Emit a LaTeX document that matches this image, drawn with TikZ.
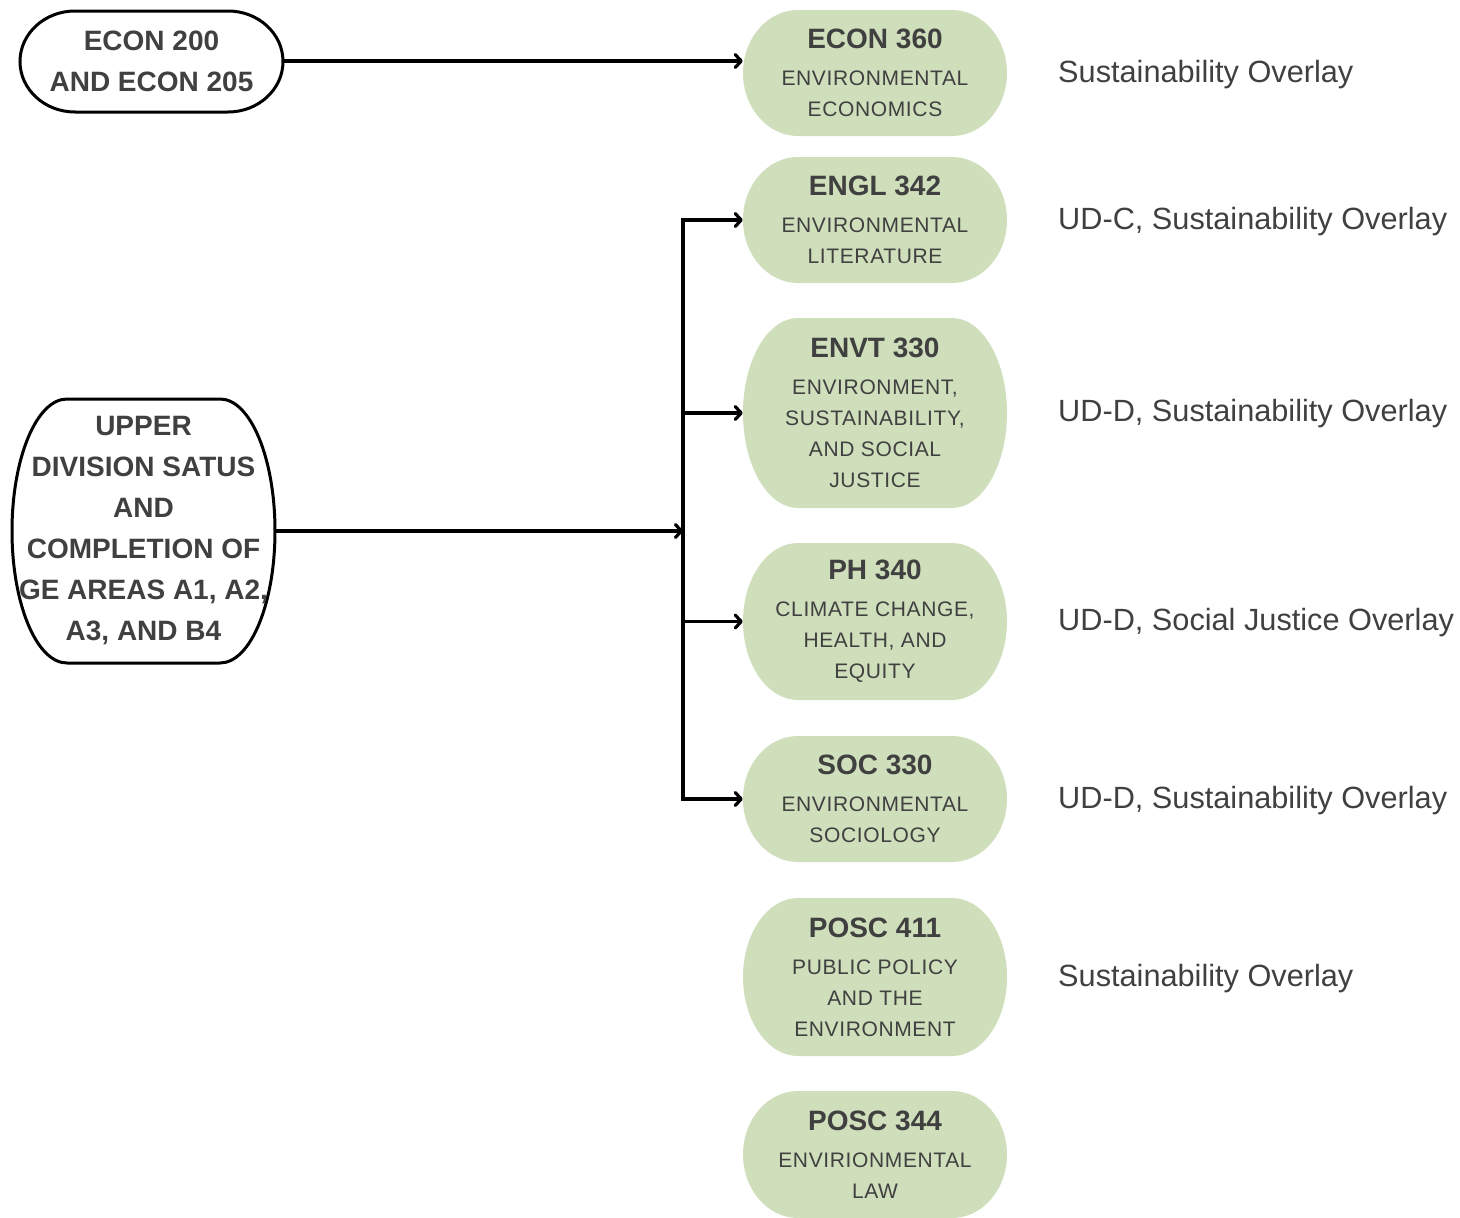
\documentclass[tikz,border=0pt]{standalone}
\usepackage{fontspec}
\setmainfont{Liberation Sans}
\newfontfamily\subfont[LetterSpace=3]{Liberation Sans}
\usetikzlibrary{arrows.meta}
\definecolor{sage}{HTML}{CFDEBB}
\definecolor{ink}{HTML}{404040}
% capsule outline: style, cx, cy, half width, half height
\newcommand\capsule[5]{%
  \path[#1] (#2-#4+55,#3-#5) -- (#2+#4-55,#3-#5)
    arc[start angle=-90,end angle=90,x radius=55,y radius=#5]
    -- (#2-#4+55,#3+#5)
    arc[start angle=90,end angle=270,x radius=55,y radius=#5] -- cycle;}
% course node: name, cx, cy, half height, title, subtitle
\newcommand\course[6]{%
  \capsule{fill=sage,draw=none}{#2}{#3}{132}{#4}
  \node[coursetext, minimum height=2*#4] (#1) at (#2,#3)
    {{\rmfamily\bfseries\fontsize{28}{31}\selectfont #5}\\[6pt]#6};}
\begin{document}
\begin{tikzpicture}[x=1pt,y=-1pt,
  coursetext/.style={inner sep=0pt, minimum width=264, align=center, text=ink,
    font={\subfont\fontsize{21}{31}\selectfont}},
  leftbox/.style={inner sep=0pt, align=center, text=ink,
    font={\bfseries\fontsize{28}{41}\selectfont}},
  outline/.style={draw=black, line width=3pt, fill=white},
  overlay/.style={anchor=west, inner sep=0pt, text=ink,
    font={\fontsize{30.7}{36}\selectfont}},
  conn/.style={draw=black, line width=3.2pt},
  arr/.style={conn, -{Straight Barb[length=6pt,width=13pt,round]}}]
\useasboundingbox (0,0) rectangle (1460,1218);

% left nodes
\capsule{outline}{151.5}{61.5}{131.5}{50.5}
\node[leftbox, minimum width=263, minimum height=101] (econ200) at (151.5,61)
  {ECON 200\\AND ECON 205};
\capsule{outline}{143.5}{531}{131.5}{132}
\node[leftbox, minimum width=263, minimum height=264] (upper) at (143.5,531)
  {UPPER\\DIVISION SATUS\\AND\\COMPLETION OF\\GE AREAS A1, A2,\\A3, AND B4};

% course nodes
\course{econ360}{875}{73}{63}{ECON 360}{ENVIRONMENTAL\\ECONOMICS}
\course{engl342}{875}{220}{63}{ENGL 342}{ENVIRONMENTAL\\LITERATURE}
\course{envt330}{875}{413}{95}{ENVT 330}{ENVIRONMENT,\\SUSTAINABILITY,\\AND SOCIAL\\JUSTICE}
\course{ph340}{875}{621.5}{78.5}{PH 340}{CLIMATE CHANGE,\\HEALTH, AND\\EQUITY}
\course{soc330}{875}{799}{63}{SOC 330}{ENVIRONMENTAL\\SOCIOLOGY}
\course{posc411}{875}{977}{79}{POSC 411}{PUBLIC POLICY\\AND THE\\ENVIRONMENT}
\course{posc344}{875}{1154.5}{63.5}{POSC 344}{ENVIRIONMENTAL\\LAW}

% overlay labels
\node[overlay] (l1) at (1058,75) {Sustainability Overlay};
\node[overlay] (l2) at (1058,222) {UD-C, Sustainability Overlay};
\node[overlay] (l3) at (1058,414) {UD-D, Sustainability Overlay};
\node[overlay] (l4) at (1058,623) {UD-D, Social Justice Overlay};
\node[overlay] (l5) at (1058,801) {UD-D, Sustainability Overlay};
\node[overlay] (l6) at (1058,979) {Sustainability Overlay};

% connectors
\draw[arr] (econ200.east) -- (econ200.east -| econ360.west);
\coordinate (bus) at (683,531);
\draw[conn, line cap=rect] (bus |- engl342.west) -- (bus |- soc330.west);
\draw[arr] (upper.east) -- (bus);
\foreach \n in {engl342,envt330,ph340,soc330}
  \draw[arr] (bus |- \n.west) -- (\n.west);
\end{tikzpicture}
\end{document}
